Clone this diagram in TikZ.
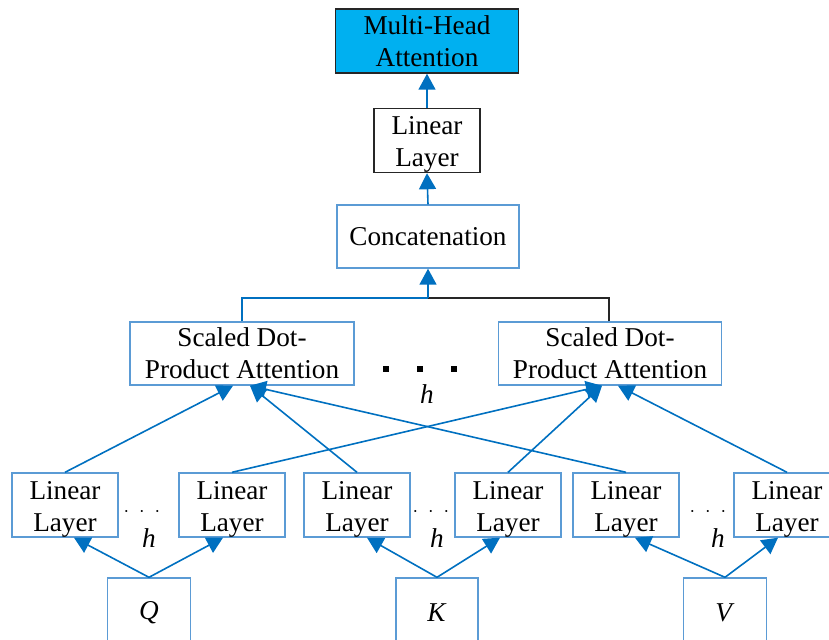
\documentclass[tikz,border=0pt]{standalone}
\usepackage{fontspec}
\setmainfont{Liberation Serif}
\usetikzlibrary{arrows.meta}
\definecolor{linkblue}{RGB}{0,112,192}
\definecolor{edgeblue}{RGB}{91,155,213}
\definecolor{headfill}{RGB}{0,176,240}
\newcommand{\linlayer}{\rule{0pt}{13pt}Linear\\Layer}
\tikzset{
  blk/.style={draw=edgeblue,line width=0.7pt,align=center,inner sep=0pt,
    font=\fontsize{13.6}{16}\selectfont},
  lin/.style={blk,minimum width=53pt,minimum height=32pt},
  lbl/.style={font=\fontsize{13.6}{16}\selectfont},
  conn/.style={draw=linkblue,line width=0.8pt,-{Triangle[length=8pt,width=8.5pt]}},
  plain/.style={draw=linkblue,line width=0.8pt}
}
\begin{document}
\begin{tikzpicture}[x=0.5pt,y=-0.5pt]
\useasboundingbox (0,0) rectangle (829,639);
\node[blk,draw=black!85,fill=headfill,minimum width=91.5pt,minimum height=32pt] (mha) at (427,41) {Multi-Head\\Attention};
\node[lin,draw=black!85] (top) at (427,140.5) {\linlayer};
\node[blk,minimum width=91pt,minimum height=31.5pt] (concat) at (428,236.5) {Concatenation};
\node[blk,minimum width=112pt,minimum height=31.5pt] (sdpa1) at (242,353.5) {Scaled Dot-\\Product Attention};
\node[blk,minimum width=111.5pt,minimum height=31.5pt] (sdpa2) at (610,353.5) {Scaled Dot-\\Product Attention};
\fill (383,366) rectangle (389,372);
\fill (417,366) rectangle (423,372);
\fill (451,366) rectangle (457,372);
\node[lbl] (hmid) at (427,394) {\textit{h}};
\node[lin] (ll1) at (65,505) {\linlayer};
\node[lin] (ll2) at (232,505) {\linlayer};
\node[lin] (ll3) at (357,505) {\linlayer};
\node[lin] (ll4) at (508,505) {\linlayer};
\node[lin] (ll5) at (626,505) {\linlayer};
\node[lin] (ll6) at (787,505) {\linlayer};
\node (dq) at (142,512) {$\cdot\;\cdot\;\cdot$};
\node (dk) at (431,512) {$\cdot\;\cdot\;\cdot$};
\node (dv) at (708,512) {$\cdot\;\cdot\;\cdot$};
\node[lbl] (hq) at (149,538) {\textit{h}};
\node[lbl] (hk) at (437,538) {\textit{h}};
\node[lbl] (hv) at (718,538) {\textit{h}};
\node[blk,minimum width=41.5pt,minimum height=35pt] (q) at (149,613) {\textit{Q}};
\node[blk,minimum width=41pt,minimum height=35pt] (k) at (437,613) {\textit{K}};
\node[blk,minimum width=41.5pt,minimum height=35pt] (v) at (725,613) {\textit{V}};
\draw[conn] (top.north) -- (mha.south);
\draw[conn] (concat.north) -- (top.south);
\coordinate (join) at (428,298);
\draw[plain] (sdpa1.north) |- (join);
\draw[black!85,line width=0.8pt] ([xshift=-0.5pt]sdpa2.north) |- (join);
\draw[conn] (join) -- (concat.south);
\draw[conn] (ll1.north) -- ([xshift=-4.5pt]sdpa1.south);
\draw[conn] (ll3.north) -- ([xshift=4pt]sdpa1.south);
\draw[conn] (ll5.north) -- ([xshift=4pt]sdpa1.south);
\draw[conn] (ll2.north) -- ([xshift=-4pt]sdpa2.south);
\draw[conn] (ll4.north) -- ([xshift=-4pt]sdpa2.south);
\draw[conn] (ll6.north) -- ([xshift=4pt]sdpa2.south);
\draw[conn] (q.north) -- ([xshift=4.5pt]ll1.south);
\draw[conn] (q.north) -- ([xshift=-4.5pt]ll2.south);
\draw[conn] (k.north) -- ([xshift=5pt]ll3.south);
\draw[conn] (k.north) -- ([xshift=-4pt]ll4.south);
\draw[conn] (v.north) -- ([xshift=4.5pt]ll5.south);
\draw[conn] (v.north) -- ([xshift=-4.5pt]ll6.south);
\end{tikzpicture}
\end{document}
